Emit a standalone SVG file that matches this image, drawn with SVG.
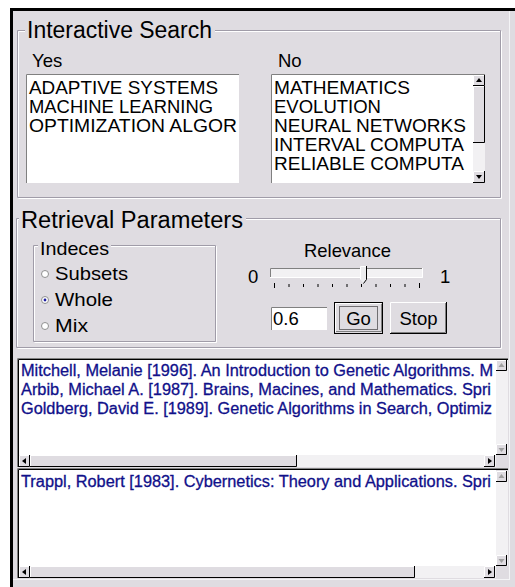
<svg xmlns="http://www.w3.org/2000/svg" width="515" height="587" viewBox="0 0 515 587">
  <style>
    .ui { font-family: "Liberation Sans", Arial, sans-serif; fill: #000; }
    .title { font-size: 23px; }
    .lbl { font-size: 18.5px; }
    .res { font-family: "Liberation Sans", Arial, sans-serif; font-size: 16px; fill: #10108a; stroke: #10108a; stroke-width: 0.3; }
    .etch { fill: none; stroke: #a09ca8; stroke-width: 1; }
    .etchHi { fill: none; stroke: #ffffff; stroke-width: 1; }
    .face { fill: #dfdce1; }
    .hi { fill: none; stroke: #ffffff; stroke-width: 1; }
    .sh { fill: none; stroke: #808080; stroke-width: 1; }
    .dk { fill: none; stroke: #000000; stroke-width: 1; }
    .track { fill: #f2f1f3; }
    .arrow { fill: #000; }
    .arrowOff { fill: #a0a0a0; }
  </style>
  <defs>
    <clipPath id="clipRes1"><rect x="19" y="360" width="477" height="95"/></clipPath>
    <clipPath id="clipRes2"><rect x="19" y="471" width="477" height="95"/></clipPath>
    <clipPath id="clipNo"><rect x="272" y="75" width="201" height="108"/></clipPath>
    <clipPath id="clipYes"><rect x="27" y="75" width="212" height="108"/></clipPath>
  </defs>

  <!-- window background and frame -->
  <rect x="0" y="0" width="515" height="587" fill="#ffffff"/>
  <rect x="10" y="8" width="505" height="579" fill="#dfdce1"/>
  <rect x="10" y="8" width="3" height="579" fill="#000"/>
  <rect x="10" y="8" width="505" height="3" fill="#000"/>
  <line x1="509.5" y1="11" x2="509.5" y2="579" stroke="#f4f4f6"/>
  <line x1="13" y1="579.5" x2="510" y2="579.5" stroke="#f4f4f6"/>

  <!-- Interactive Search group -->
  <g id="interactive-search">
    <path class="etchHi" d="M25 31.5 H18.5 V196.5 M18.5 198.5 H501.5 V31.5 H215"/>
    <path class="etch" d="M25 30.5 H17.5 V197.5 H500.5 V30.5 H215"/>
    <text class="ui title" x="27" y="38" textLength="185" lengthAdjust="spacingAndGlyphs">Interactive Search</text>

    <g id="yes-list">
      <text class="ui lbl" x="32" y="67">Yes</text>
      <rect x="26" y="74" width="213" height="109" fill="#fff"/>
      <path class="sh" d="M26.5 183 V74.5 H239"/>
      <g clip-path="url(#clipYes)">
        <text class="ui lbl" x="29" y="94" textLength="189" lengthAdjust="spacingAndGlyphs">ADAPTIVE SYSTEMS</text>
        <text class="ui lbl" x="29" y="113" textLength="184" lengthAdjust="spacingAndGlyphs">MACHINE LEARNING</text>
        <text class="ui lbl" x="29" y="132" textLength="208" lengthAdjust="spacingAndGlyphs">OPTIMIZATION ALGOR</text>
      </g>
    </g>

    <g id="no-list">
      <text class="ui lbl" x="278" y="67">No</text>
      <rect x="271" y="74" width="214" height="109" fill="#fff"/>
      <path class="sh" d="M271.5 183 V74.5 H485"/>
      <g clip-path="url(#clipNo)">
        <text class="ui lbl" x="274" y="94" textLength="136" lengthAdjust="spacingAndGlyphs">MATHEMATICS</text>
        <text class="ui lbl" x="274" y="113" textLength="107" lengthAdjust="spacingAndGlyphs">EVOLUTION</text>
        <text class="ui lbl" x="274" y="132" textLength="192" lengthAdjust="spacingAndGlyphs">NEURAL NETWORKS</text>
        <text class="ui lbl" x="274" y="151" textLength="190" lengthAdjust="spacingAndGlyphs">INTERVAL COMPUTA</text>
        <text class="ui lbl" x="274" y="170" textLength="190" lengthAdjust="spacingAndGlyphs">RELIABLE COMPUTA</text>
      </g>
      <!-- vertical scrollbar -->
      <rect class="track" x="473" y="75" width="12" height="108"/>
      <rect class="face" x="473" y="75" width="12" height="11"/>
      <path class="hi" d="M473.5 85 V75.5 H484"/>
      <path class="dk" d="M473 85.5 H484.5 V75"/>
      <polygon class="arrow" points="479,78 476,82 482,82"/>
      <rect class="face" x="473" y="86" width="12" height="57"/>
      <path class="hi" d="M473.5 142 V86.5 H484"/>
      <path class="dk" d="M473 142.5 H484.5 V86"/>
      <rect class="face" x="473" y="171" width="12" height="12"/>
      <path class="hi" d="M473.5 182 V171.5 H484"/>
      <path class="dk" d="M473 182.5 H484.5 V171"/>
      <polygon class="arrow" points="476,175 482,175 479,179"/>
    </g>
  </g>

  <!-- Retrieval Parameters group -->
  <g id="retrieval-parameters">
    <path class="etchHi" d="M19 219.5 H17.5 V346.5 M17.5 348.5 H501.5 V219.5 H246"/>
    <path class="etch" d="M19 218.5 H16.5 V347.5 H500.5 V218.5 H246"/>
    <text class="ui title" x="21" y="228" textLength="222" lengthAdjust="spacingAndGlyphs">Retrieval Parameters</text>

    <g id="indeces">
      <path class="etchHi" d="M38 246.5 H34.5 V340.5 M34.5 342.5 H216.5 V246.5 H111"/>
      <path class="etch" d="M38 245.5 H33.5 V341.5 H215.5 V245.5 H111"/>
      <text class="ui lbl" x="40" y="255" textLength="69" lengthAdjust="spacingAndGlyphs">Indeces</text>

      <circle cx="45" cy="274" r="3.5" fill="#fff" stroke="#909090"/>
      <text class="ui lbl" x="55" y="280" textLength="73" lengthAdjust="spacingAndGlyphs">Subsets</text>

      <circle cx="45" cy="300" r="3.5" fill="#fff" stroke="#909090"/>
      <circle cx="45" cy="300" r="1.4" fill="#1a1aa0"/>
      <text class="ui lbl" x="55" y="306" textLength="58" lengthAdjust="spacingAndGlyphs">Whole</text>

      <circle cx="45" cy="326" r="3.5" fill="#fff" stroke="#909090"/>
      <text class="ui lbl" x="55" y="331.5" textLength="33" lengthAdjust="spacingAndGlyphs">Mix</text>
    </g>

    <g id="relevance">
      <text class="ui lbl" x="347.5" y="257" text-anchor="middle" textLength="87" lengthAdjust="spacingAndGlyphs">Relevance</text>
      <text class="ui lbl" x="248" y="283">0</text>
      <text class="ui lbl" x="440" y="283">1</text>
      <!-- slider track -->
      <rect x="270" y="268" width="153" height="10" fill="#f2f1f3"/>
      <path class="sh" d="M270.5 278 V268.5 H423"/>
      <path class="hi" d="M270 277.5 H422.5 V268"/>
      <!-- slider thumb -->
      <polygon points="360.5,266.5 366.5,266.5 366.5,279.5 363.5,283.5 360.5,279.5" fill="#ececee"/>
      <path class="hi" d="M360.5 279.5 V266.5 H366"/>
      <path class="dk" d="M366.5 266 V279.5 L363.5 283.5"/>
      <!-- tick marks -->
      <path stroke="#000" stroke-width="1" fill="none" d="M274.5 283 V288 M289 284 V287 M303.5 284 V287 M318 284 V287 M332.5 284 V287 M347 284 V287 M361.5 284 V287 M376 284 V287 M390.5 284 V287 M405 284 V287 M419.5 283 V288"/>
    </g>

    <g id="value-field">
      <rect x="271" y="307" width="56" height="23" fill="#fff"/>
      <path class="sh" d="M271.5 330 V307.5 H327"/>
      <text class="ui lbl" x="273" y="325">0.6</text>
    </g>

    <g id="go-button">
      <rect class="face" x="334" y="302" width="49" height="32"/>
      <rect x="334.5" y="302.5" width="48" height="31" fill="none" stroke="#000"/>
      <path class="hi" d="M335.5 332 V303.5 H381"/>
      <path class="sh" d="M336 331.5 H381.5 V304"/>
      <rect x="339.5" y="306.5" width="38" height="23" fill="none" stroke="#000" stroke-dasharray="1 1"/>
      <text class="ui lbl" x="358.5" y="325" text-anchor="middle">Go</text>
    </g>

    <g id="stop-button">
      <rect class="face" x="390" y="302" width="57" height="32"/>
      <path class="hi" d="M390.5 333 V302.5 H446"/>
      <path class="sh" d="M391 332.5 H445.5 V303"/>
      <path class="dk" d="M390 333.5 H446.5 V302"/>
      <text class="ui lbl" x="418.5" y="325" text-anchor="middle">Stop</text>
    </g>
  </g>

  <!-- first result list -->
  <g id="results-1">
    <rect x="17" y="358" width="479" height="97" fill="#fff"/>
    <path class="sh" d="M17.5 467 V358.5 H508"/>
    <path class="dk" d="M18.5 467 V359.5 H508"/>
    <g clip-path="url(#clipRes1)">
      <text class="res" x="21" y="376" textLength="472" lengthAdjust="spacingAndGlyphs">Mitchell, Melanie [1996]. An Introduction to Genetic Algorithms. M</text>
      <text class="res" x="21" y="395" textLength="470" lengthAdjust="spacingAndGlyphs">Arbib, Michael A. [1987]. Brains, Macines, and Mathematics. Spri</text>
      <text class="res" x="21" y="414" textLength="471" lengthAdjust="spacingAndGlyphs">Goldberg, David E. [1989]. Genetic Algorithms in Search, Optimiz</text>
    </g>
    <!-- vertical scrollbar -->
    <rect class="track" x="496" y="360" width="12" height="95"/>
    <rect class="face" x="496" y="360" width="11" height="11"/>
    <path class="hi" d="M496.5 370 V360.5 H506"/>
    <path class="dk" d="M496 370.5 H506.5 V360"/>
    <polygon class="arrowOff" points="501.5,363 498.5,367 504.5,367"/>
    <rect class="face" x="496" y="444" width="11" height="11"/>
    <path class="hi" d="M496.5 454 V444.5 H506"/>
    <path class="dk" d="M496 454.5 H506.5 V444"/>
    <polygon class="arrowOff" points="498.5,448 504.5,448 501.5,452"/>
    <!-- horizontal scrollbar -->
    <rect class="track" x="19" y="455" width="477" height="12"/>
    <rect class="face" x="19" y="455" width="11" height="12"/>
    <path class="hi" d="M19.5 466 V455.5 H29"/>
    <path class="dk" d="M19 466.5 H29.5 V455"/>
    <polygon class="arrow" points="22,461 26,458 26,464"/>
    <rect class="face" x="30" y="455" width="267" height="12"/>
    <path class="hi" d="M30.5 466 V455.5 H296"/>
    <path class="dk" d="M30 466.5 H296.5 V455"/>
    <rect class="face" x="484" y="455" width="11" height="12"/>
    <path class="hi" d="M484.5 466 V455.5 H494"/>
    <path class="dk" d="M484 466.5 H494.5 V455"/>
    <polygon class="arrow" points="488,458 492,461 488,464"/>
    <rect class="face" x="496" y="455" width="12" height="12"/>
  </g>

  <!-- second result list -->
  <g id="results-2">
    <rect x="17" y="468" width="479" height="98" fill="#fff"/>
    <path class="sh" d="M17.5 578 V468.5 H508"/>
    <path class="dk" d="M18.5 578 V469.5 H508"/>
    <g clip-path="url(#clipRes2)">
      <text class="res" x="21" y="486.5" textLength="470" lengthAdjust="spacingAndGlyphs">Trappl, Robert [1983]. Cybernetics: Theory and Applications. Spri</text>
    </g>
    <!-- vertical scrollbar -->
    <rect class="track" x="496" y="471" width="12" height="95"/>
    <rect class="face" x="496" y="471" width="11" height="11"/>
    <path class="hi" d="M496.5 481 V471.5 H506"/>
    <path class="dk" d="M496 481.5 H506.5 V471"/>
    <polygon class="arrowOff" points="501.5,474 498.5,478 504.5,478"/>
    <rect class="face" x="496" y="555" width="11" height="11"/>
    <path class="hi" d="M496.5 565 V555.5 H506"/>
    <path class="dk" d="M496 565.5 H506.5 V555"/>
    <polygon class="arrowOff" points="498.5,559 504.5,559 501.5,563"/>
    <!-- horizontal scrollbar -->
    <rect class="track" x="19" y="566" width="477" height="12"/>
    <rect class="face" x="19" y="566" width="11" height="12"/>
    <path class="hi" d="M19.5 577 V566.5 H29"/>
    <path class="dk" d="M19 577.5 H29.5 V566"/>
    <polygon class="arrow" points="22,572 26,569 26,575"/>
    <rect class="face" x="30" y="566" width="385" height="12"/>
    <path class="hi" d="M30.5 577 V566.5 H414"/>
    <path class="dk" d="M30 577.5 H414.5 V566"/>
    <rect class="face" x="484" y="566" width="11" height="12"/>
    <path class="hi" d="M484.5 577 V566.5 H494"/>
    <path class="dk" d="M484 577.5 H494.5 V566"/>
    <polygon class="arrow" points="488,569 492,572 488,575"/>
    <rect class="face" x="496" y="566" width="12" height="12"/>
  </g>
</svg>
